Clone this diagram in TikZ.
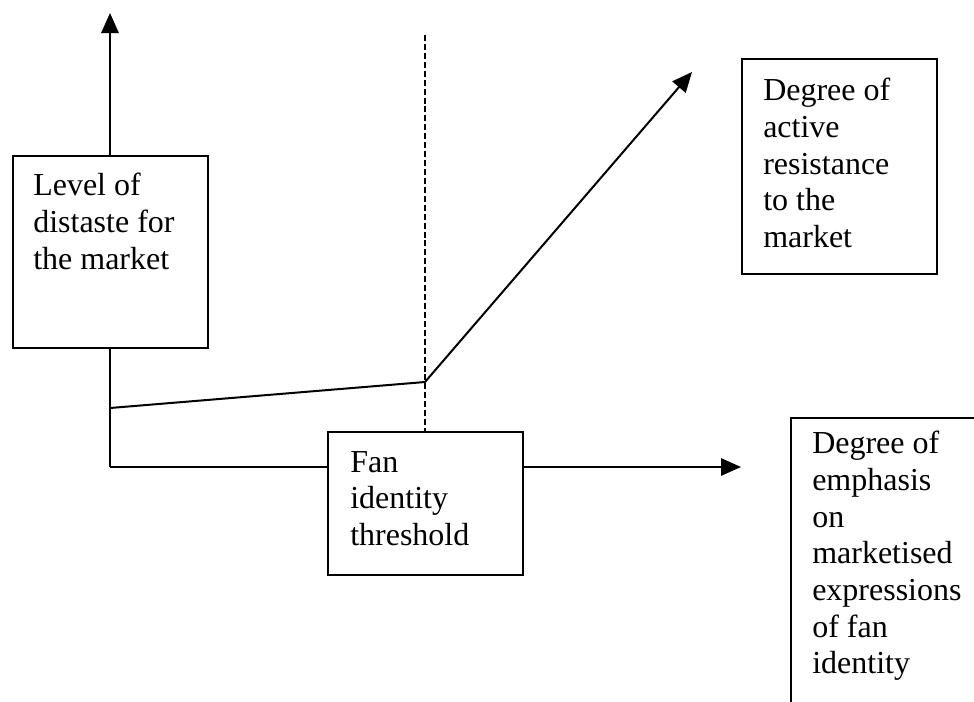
\documentclass[tikz,border=0pt]{standalone}
\usepackage{fontspec}
\setmainfont{Liberation Serif}
\usetikzlibrary{arrows.meta,fit}
\tikzset{
  panel/.style={draw, line width=1.6pt, fill=white, inner sep=0pt},
  caption/.style={anchor=north west, inner sep=0pt, align=left, font=\fontsize{24}{27.5}\selectfont},
  axis/.style={line width=1.5pt},
  tip/.style={-{Triangle[length=15pt,width=13pt]}},
}
\begin{document}
\begin{tikzpicture}[x=0.75pt,y=0.75pt,yscale=-1]
\clip (0,0) rectangle (974,701);

%Coordinates
\coordinate (origin) at (110,467);
\coordinate (ytip) at (110,13);
\coordinate (xtip) at (741,467);
\coordinate (start) at (110,408);
\coordinate (kink) at (425,382);
\coordinate (risetip) at (692,72);
\coordinate (dashtop) at (425,35);

%Shape: Rectangle
\node[panel, fit={(13,156) (208,348)}] (distaste) {};
%Shape: Rectangle
\node[panel, fit={(742,59) (937,274)}] (resistance) {};
%Shape: Rectangle
\node[panel, fit={(328,432) (523,575)}] (threshold) {};
%Shape: Rectangle
\node[panel, fit={(791,418) (990,720)}] (emphasis) {};

%Straight Lines
\draw[axis] (origin) -- (origin |- distaste.south);
\draw[axis, tip] (origin |- distaste.north) -- (ytip);
%Straight Lines
\draw[axis] (origin) -- (origin -| threshold.west);
\draw[axis, tip] (origin -| threshold.east) -- (xtip);
%Straight Lines
\draw[axis, dash pattern=on 4.5pt off 2.2pt] (dashtop) -- (dashtop |- threshold.north);
%Straight Lines
\draw[axis, tip] (start) -- (kink) -- (risetip);

% Text Node
\node[caption] (distastetext) at (33,173) {Level of\\distaste for\\the market};
% Text Node
\node[caption] (resistancetext) at (763,78) {Degree of\\active\\resistance\\to the\\market};
% Text Node
\node[caption] (thresholdtext) at (350,451) {Fan\\identity\\threshold};
% Text Node
\node[caption] (emphasistext) at (812,431) {Degree of\\emphasis\\on\\marketised\\expressions\\of fan\\identity};

\end{tikzpicture}
\end{document}
